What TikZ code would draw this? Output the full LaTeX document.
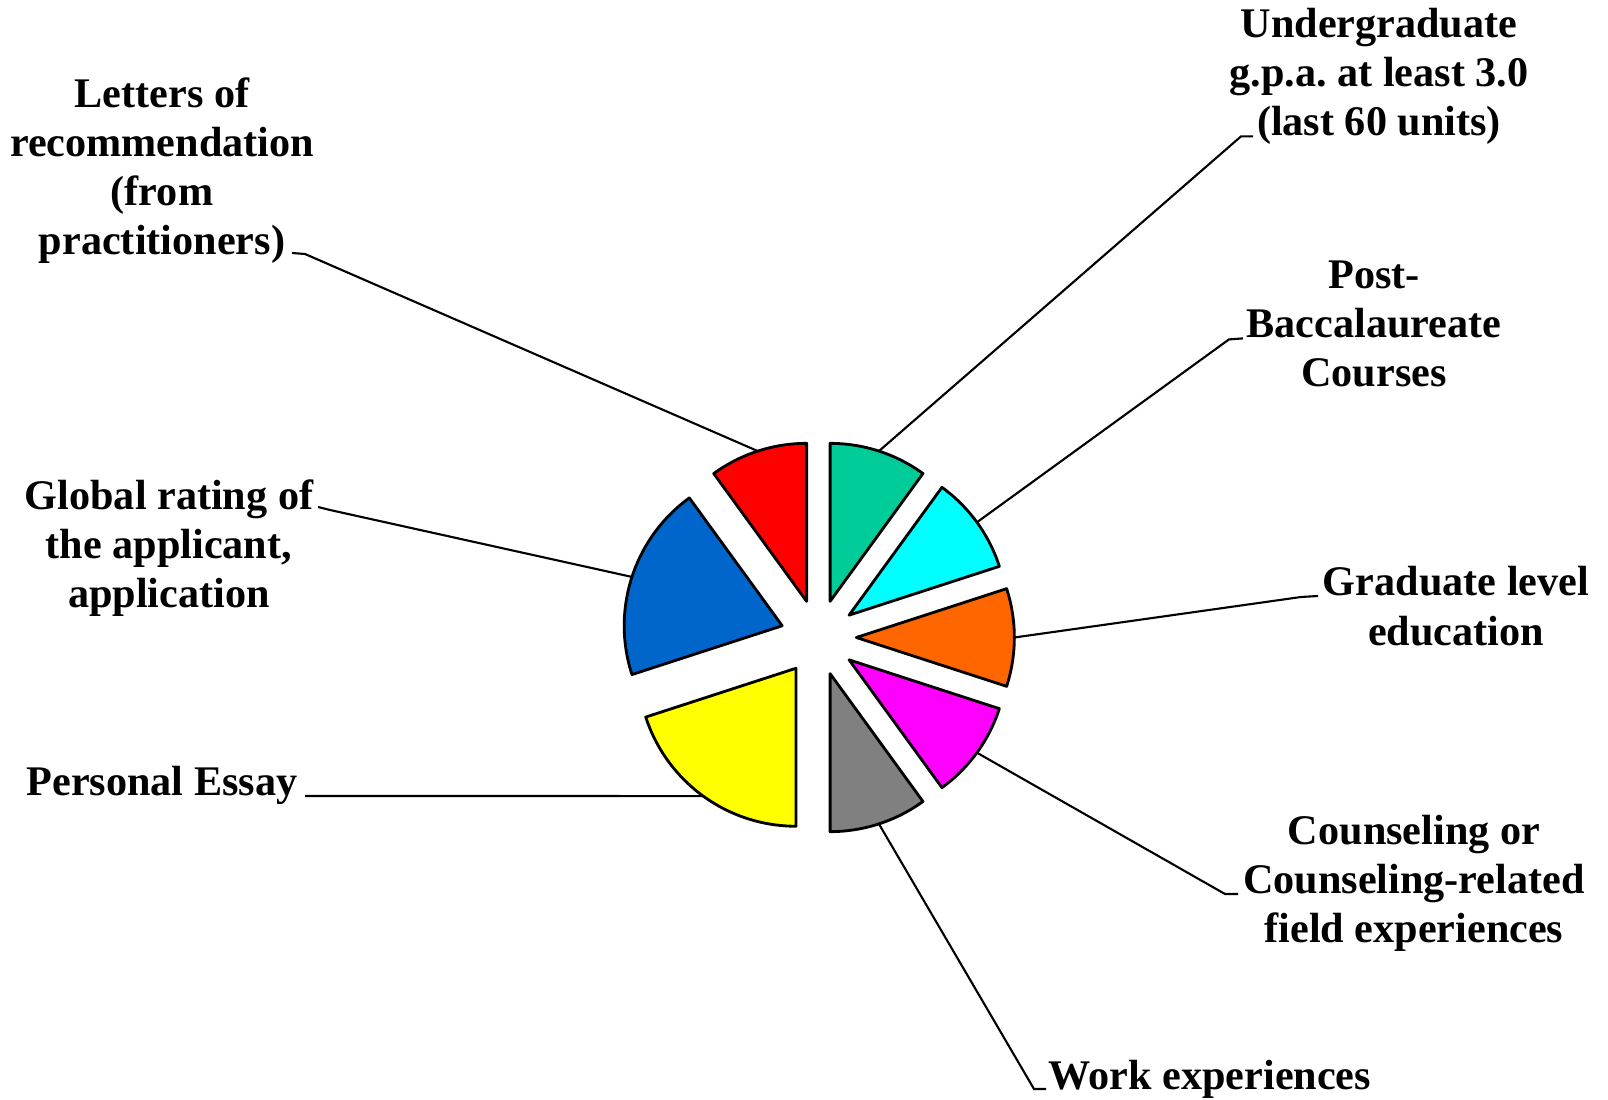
\documentclass[tikz,border=0pt]{standalone}
\usepackage{fontspec}
\setmainfont{Liberation Serif}
\usetikzlibrary{calc}

\definecolor{letterscol}{RGB}{255,0,0}
\definecolor{gpacol}{RGB}{0,204,153}
\definecolor{postbacccol}{RGB}{0,255,255}
\definecolor{gradcol}{RGB}{255,102,0}
\definecolor{counselcol}{RGB}{255,0,255}
\definecolor{workcol}{RGB}{128,128,128}
\definecolor{essaycol}{RGB}{255,255,0}
\definecolor{globalcol}{RGB}{0,102,204}

\tikzset{
    slice/.style={draw=black, line width=0.8pt, line join=round},
    labeltext/.style={font={\fontsize{12}{14}\selectfont\bfseries}, align=center, black, inner sep=0pt},
    leader/.style={draw=black, line width=0.6pt}
}

\begin{document}
\begin{tikzpicture}[x=0.01cm, y=0.01cm]
        \useasboundingbox (0,0) rectangle (1608,1099);
        \coordinate (C) at (818.35,461.5);

        \draw[slice, fill=letterscol] ($(C)+(108:38)$) -- ++(90:158) arc[start angle=90, end angle=126, radius=158] -- cycle;
        \draw[slice, fill=globalcol] ($(C)+(162:38)$) -- ++(126:158) arc[start angle=126, end angle=198, radius=158] -- cycle;
        \draw[slice, fill=essaycol] ($(C)+(234:38)$) -- ++(198:158) arc[start angle=198, end angle=270, radius=158] -- cycle;
        \draw[slice, fill=workcol] ($(C)+(288:38)$) -- ++(270:158) arc[start angle=270, end angle=306, radius=158] -- cycle;
        \draw[slice, fill=counselcol] ($(C)+(324:38)$) -- ++(306:158) arc[start angle=306, end angle=342, radius=158] -- cycle;
        \draw[slice, fill=gradcol] ($(C)+(0:38)$) -- ++(-18:158) arc[start angle=-18, end angle=18, radius=158] -- cycle;
        \draw[slice, fill=postbacccol] ($(C)+(36:38)$) -- ++(18:158) arc[start angle=18, end angle=54, radius=158] -- cycle;
        \draw[slice, fill=gpacol] ($(C)+(72:38)$) -- ++(54:158) arc[start angle=54, end angle=90, radius=158] -- cycle;

        \coordinate (lettersarc) at ($(C)+(108:196)$);
        \coordinate (globalarc) at ($(C)+(162:196)$);
        \coordinate (essayarc) at ($(C)+(234:196)$);
        \coordinate (workarc) at ($(C)+(288:196)$);
        \coordinate (counselarc) at ($(C)+(324:196)$);
        \coordinate (gradarc) at ($(C)+(0:196)$);
        \coordinate (postbaccarc) at ($(C)+(36:196)$);
        \coordinate (gpaarc) at ($(C)+(72:196)$);

        \node[labeltext] (letters) at (162,928.5) {Letters of\\recommendation\\(from\\practitioners)};
        \node[labeltext] (global) at (169,551) {Global rating of\\the applicant,\\application};
        \node[labeltext] (essay) at (162,314) {Personal Essay};
        \node[labeltext] (work) at (1210,19.5) {Work experiences};
        \node[labeltext] (counsel) at (1414,215.6) {Counseling or\\Counseling-related\\field experiences};
        \node[labeltext] (grad) at (1456,493) {Graduate level\\education};
        \node[labeltext] (postbacc) at (1374,775) {Post-\\Baccalaureate\\Courses};
        \node[labeltext] (gpa) at (1379,1022.7) {Undergraduate\\g.p.a.\ at least 3.0\\(last 60 units)};

        \coordinate (lettersend) at (292,846);
        \coordinate (globalend) at (318,592);
        \coordinate (essayend) at (305,303);
        \coordinate (workend) at (1046,10);
        \coordinate (counselend) at (1238,205);
        \coordinate (gradend) at (1318,503);
        \coordinate (postbaccend) at (1243,760.6);
        \coordinate (gpaend) at (1253,962.6);

        \draw[leader] (lettersend) -- ++(13,-1) -- (lettersarc);
        \draw[leader] (globalend) -- ++(12,-3) -- (globalarc);
        \draw[leader] (essayend) -- (essayarc);
        \draw[leader] (workend) -- ++(-12,0) -- (workarc);
        \draw[leader] (counselend) -- ++(-13,0) -- (counselarc);
        \draw[leader] (gradend) -- ++(-17,-1) -- (gradarc);
        \draw[leader] (postbaccend) -- ++(-14,-1) -- (postbaccarc);
        \draw[leader] (gpaend) -- ++(-12,0) -- (gpaarc);
    \end{tikzpicture}
\end{document}
